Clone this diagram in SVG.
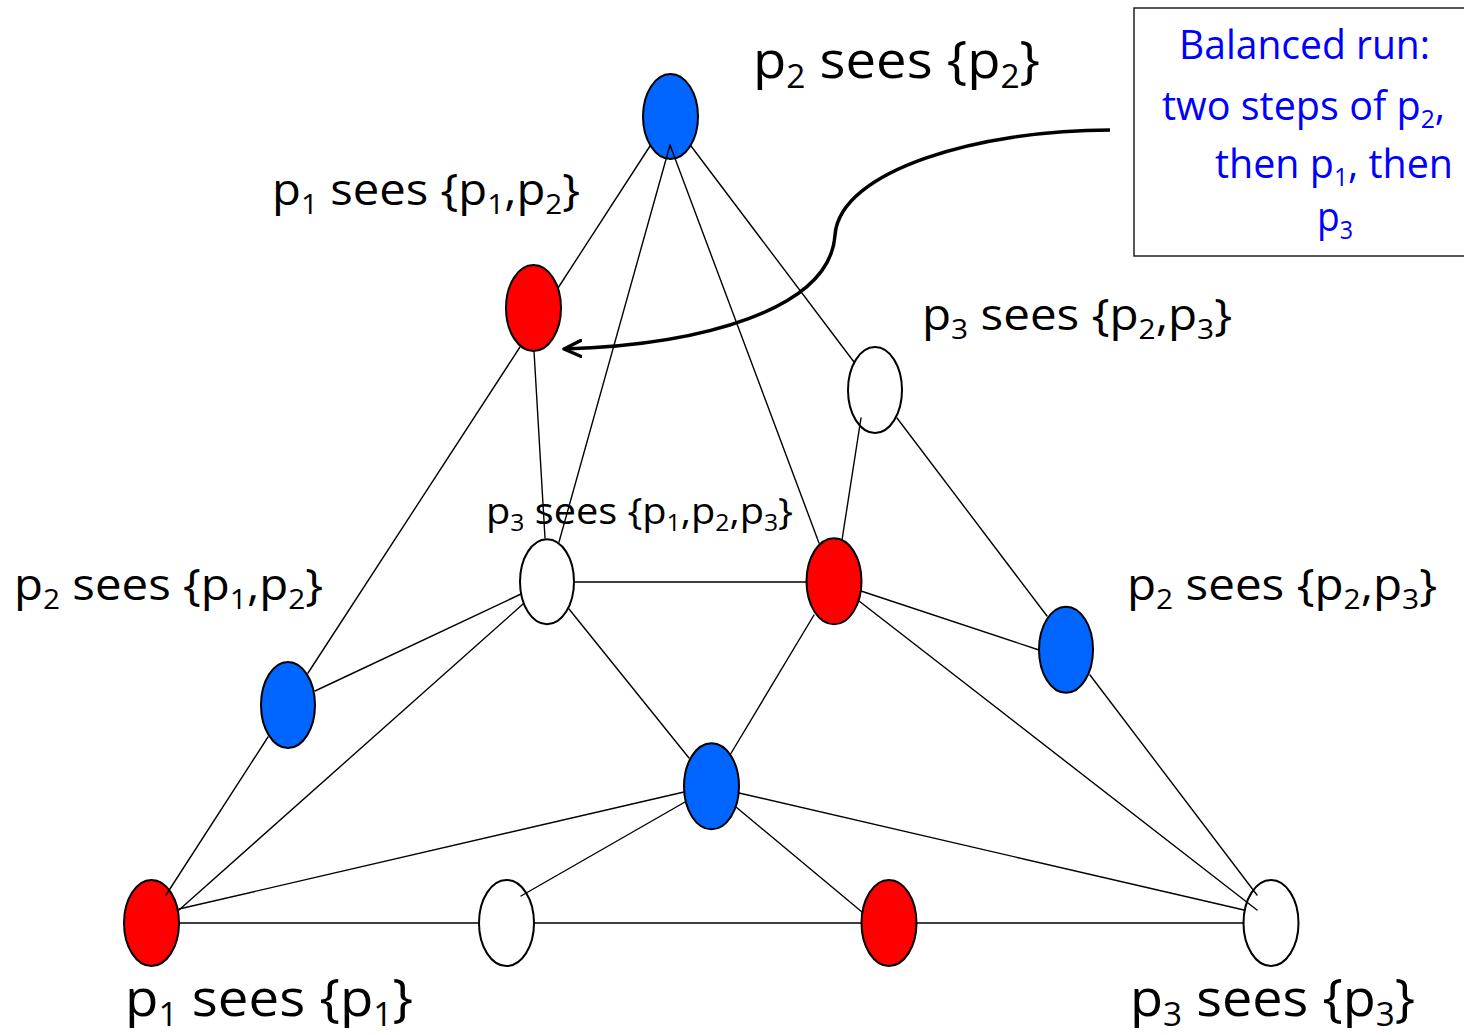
<svg xmlns="http://www.w3.org/2000/svg" width="1464" height="1035" viewBox="0 0 1464 1035">
<style>
  .lbl { font-family: "Open Sans", "Liberation Sans", sans-serif; fill: #000; }
  .blue-t { font-family: "Open Sans", "Liberation Sans", sans-serif; fill: #0000ff; }
  .n { stroke: #000; stroke-width: 2; }
  .nb { fill: #0066ff; }
  .nr { fill: #ff0000; }
  .nw { fill: #ffffff; }
  .e { stroke: #000; stroke-width: 1.4; fill: none; stroke-linecap: round; }
</style>
<defs>
  <marker id="arrow" viewBox="0 0 20 20" refX="18" refY="10" markerWidth="20" markerHeight="20" markerUnits="userSpaceOnUse" orient="auto">
    <polyline points="1,2 18,10 1,18" fill="none" stroke="#000" stroke-width="3.5" stroke-linecap="round" stroke-linejoin="round"/>
  </marker>
</defs>
<rect width="1464" height="1035" fill="#fff"/>

<g id="nodes">
  <g id="n-top"><ellipse class="n nb" cx="670.5" cy="116.5" rx="27.5" ry="42.5"/></g>
  <g id="n-r1"><ellipse class="n nr" cx="533.5" cy="308" rx="27.5" ry="43"/></g>
  <g id="n-w1"><ellipse class="n nw" cx="875" cy="390" rx="27" ry="43"/></g>
  <g id="n-wc"><ellipse class="n nw" cx="547" cy="581.7" rx="27" ry="42.5"/></g>
  <g id="n-rc"><ellipse class="n nr" cx="834" cy="581.3" rx="27.5" ry="43"/></g>
  <g id="n-bl"><ellipse class="n nb" cx="288" cy="705" rx="27" ry="43"/></g>
  <g id="n-br"><ellipse class="n nb" cx="1066" cy="649.7" rx="27" ry="43"/></g>
  <g id="n-bm"><ellipse class="n nb" cx="711.5" cy="786.3" rx="27.5" ry="43"/></g>
  <g id="n-rbl"><ellipse class="n nr" cx="151.5" cy="923" rx="27.5" ry="43"/></g>
  <g id="n-wb"><ellipse class="n nw" cx="506.5" cy="923" rx="27.5" ry="43"/></g>
  <g id="n-rb"><ellipse class="n nr" cx="889" cy="923" rx="27.5" ry="43"/></g>
  <g id="n-wbr"><ellipse class="n nw" cx="1271" cy="923" rx="27.5" ry="43"/></g>
</g>

<g id="connectors">
  <line class="e" x1="650" y1="146" x2="558" y2="288"/>
  <line class="e" x1="670" y1="145" x2="559" y2="542"/>
  <line class="e" x1="670" y1="145" x2="819" y2="543"/>
  <line class="e" x1="691" y1="146" x2="854" y2="362"/>
  <line class="e" x1="534" y1="351" x2="545" y2="538"/>
  <line class="e" x1="520" y1="347" x2="308" y2="673"/>
  <line class="e" x1="861" y1="418" x2="842" y2="540"/>
  <line class="e" x1="897" y1="418" x2="1047" y2="616"/>
  <line class="e" x1="574" y1="582" x2="807" y2="582"/>
  <line class="e" x1="521" y1="594" x2="315" y2="691"/>
  <line class="e" x1="523" y1="604" x2="179" y2="910"/>
  <line class="e" x1="569" y1="609" x2="689" y2="758"/>
  <line class="e" x1="814" y1="615" x2="730" y2="755"/>
  <line class="e" x1="861" y1="591" x2="1039" y2="650"/>
  <line class="e" x1="859" y1="601" x2="1257" y2="910"/>
  <line class="e" x1="1090" y1="675" x2="1257" y2="895"/>
  <line class="e" x1="268" y1="737" x2="166" y2="895"/>
  <line class="e" x1="684" y1="792" x2="179" y2="909"/>
  <line class="e" x1="685" y1="802" x2="521" y2="896"/>
  <line class="e" x1="736" y1="807" x2="862" y2="912"/>
  <line class="e" x1="739" y1="793" x2="1244" y2="910"/>
  <line class="e" x1="179" y1="923" x2="479" y2="923"/>
  <line class="e" x1="534" y1="923" x2="861.5" y2="923"/>
  <line class="e" x1="916.5" y1="923" x2="1243.5" y2="923"/>
  <path d="M1110,130 C980,130 840,170 835,235 C830,310 700,345 564,349" fill="none" stroke="#000" stroke-width="3.5" marker-end="url(#arrow)"/>
</g>

<g id="labels">
  <text class="lbl" x="753" y="78" font-size="52" textLength="287" lengthAdjust="spacingAndGlyphs">p<tspan font-size="32" dy="10">2</tspan><tspan dy="-10"> sees {p</tspan><tspan font-size="32" dy="10">2</tspan><tspan dy="-10">}</tspan></text>
  <text class="lbl" x="272" y="205" font-size="43" textLength="308" lengthAdjust="spacingAndGlyphs">p<tspan font-size="27" dy="9">1</tspan><tspan dy="-9"> sees {p</tspan><tspan font-size="27" dy="9">1</tspan><tspan dy="-9">,p</tspan><tspan font-size="27" dy="9">2</tspan><tspan dy="-9">}</tspan></text>
  <text class="lbl" x="922" y="330" font-size="43" textLength="310" lengthAdjust="spacingAndGlyphs">p<tspan font-size="27" dy="9">3</tspan><tspan dy="-9"> sees {p</tspan><tspan font-size="27" dy="9">2</tspan><tspan dy="-9">,p</tspan><tspan font-size="27" dy="9">3</tspan><tspan dy="-9">}</tspan></text>
  <text class="lbl" x="486" y="524" font-size="37" textLength="307" lengthAdjust="spacingAndGlyphs">p<tspan font-size="23" dy="7">3</tspan><tspan dy="-7"> sees {p</tspan><tspan font-size="23" dy="7">1</tspan><tspan dy="-7">,p</tspan><tspan font-size="23" dy="7">2</tspan><tspan dy="-7">,p</tspan><tspan font-size="23" dy="7">3</tspan><tspan dy="-7">}</tspan></text>
  <text class="lbl" x="14" y="600" font-size="43" textLength="309" lengthAdjust="spacingAndGlyphs">p<tspan font-size="27" dy="9">2</tspan><tspan dy="-9"> sees {p</tspan><tspan font-size="27" dy="9">1</tspan><tspan dy="-9">,p</tspan><tspan font-size="27" dy="9">2</tspan><tspan dy="-9">}</tspan></text>
  <text class="lbl" x="1127" y="600" font-size="43" textLength="310" lengthAdjust="spacingAndGlyphs">p<tspan font-size="27" dy="9">2</tspan><tspan dy="-9"> sees {p</tspan><tspan font-size="27" dy="9">2</tspan><tspan dy="-9">,p</tspan><tspan font-size="27" dy="9">3</tspan><tspan dy="-9">}</tspan></text>
  <text class="lbl" x="125" y="1016" font-size="52" textLength="288" lengthAdjust="spacingAndGlyphs">p<tspan font-size="32" dy="10">1</tspan><tspan dy="-10"> sees {p</tspan><tspan font-size="32" dy="10">1</tspan><tspan dy="-10">}</tspan></text>
  <text class="lbl" x="1130" y="1016" font-size="52" textLength="285" lengthAdjust="spacingAndGlyphs">p<tspan font-size="32" dy="10">3</tspan><tspan dy="-10"> sees {p</tspan><tspan font-size="32" dy="10">3</tspan><tspan dy="-10">}</tspan></text>
</g>

<g id="note">
  <rect x="1134" y="8" width="340" height="248" fill="#fff" stroke="#222" stroke-width="1.5"/>
  <text class="blue-t" x="1179" y="59" font-size="40" textLength="251" lengthAdjust="spacingAndGlyphs">Balanced run:</text>
  <text class="blue-t" x="1162" y="120" font-size="40" textLength="283" lengthAdjust="spacingAndGlyphs">two steps of p<tspan font-size="25" dy="8">2</tspan><tspan dy="-8">,</tspan></text>
  <text class="blue-t" x="1215" y="178" font-size="40" textLength="238" lengthAdjust="spacingAndGlyphs">then p<tspan font-size="25" dy="8">1</tspan><tspan dy="-8">, then</tspan></text>
  <text class="blue-t" x="1317" y="231" font-size="40" textLength="36" lengthAdjust="spacingAndGlyphs">p<tspan font-size="25" dy="8">3</tspan></text>
</g>
</svg>
